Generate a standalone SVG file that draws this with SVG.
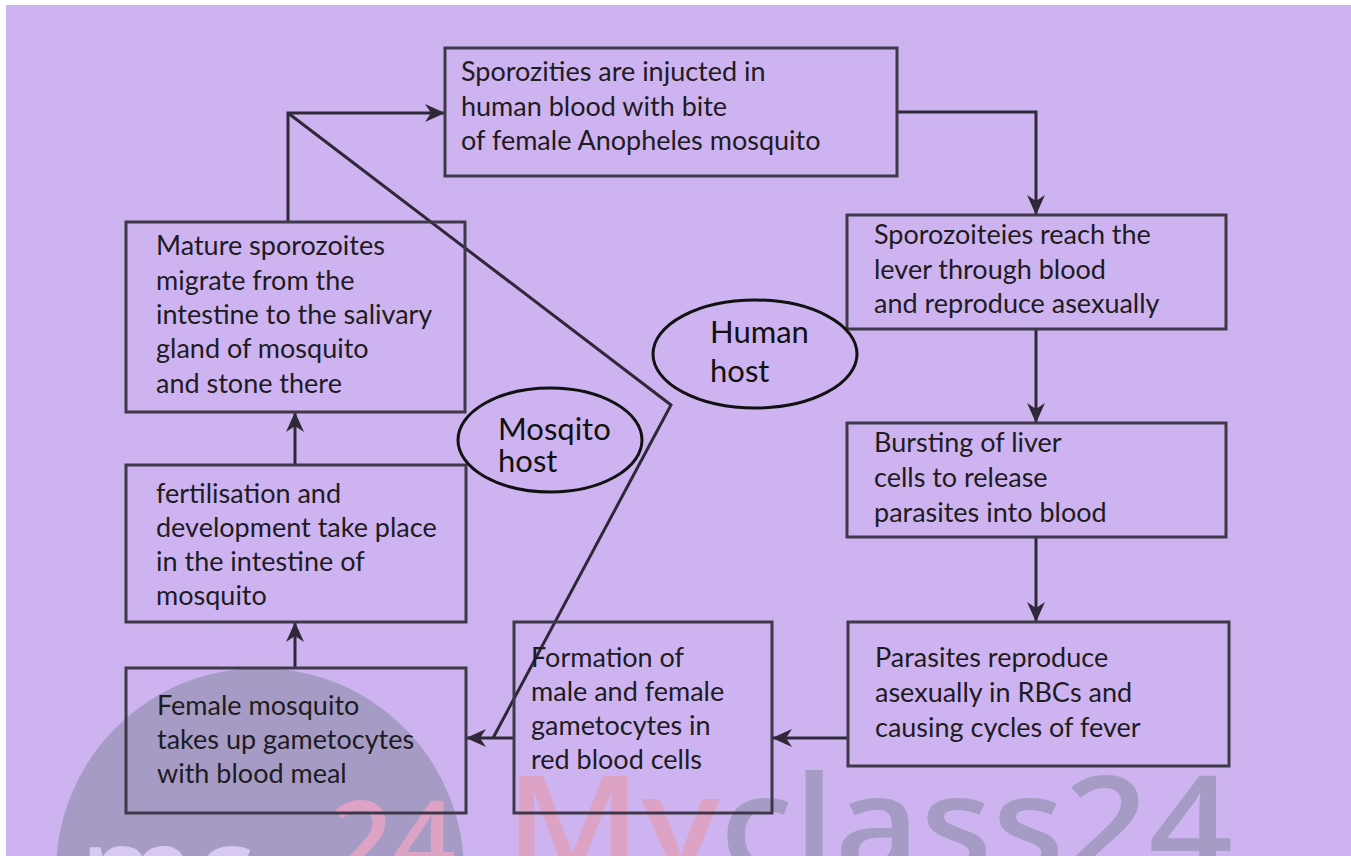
<svg xmlns="http://www.w3.org/2000/svg" width="1351" height="856" viewBox="0 0 1351 856">
<defs>
<style>
.box{fill:none;stroke:#3f3848;stroke-width:3}
.t{font-family:Lato,"Open Sans","Liberation Sans",sans-serif;font-size:27px;fill:#1f1b22}
.h{font-family:Lato,"Open Sans","Liberation Sans",sans-serif;font-size:31px;fill:#111}
.host{fill:none;stroke:#111;stroke-width:3}
.c{fill:none;stroke:#2f2838;stroke-width:3}
.wm{font-family:"Open Sans","Liberation Sans",sans-serif;font-weight:600}
</style>
<marker id="ah" viewBox="0 0 20 18" refX="19" refY="9" markerWidth="20" markerHeight="18" markerUnits="userSpaceOnUse" orient="auto">
<path d="M0,0 L20,9 L0,18 L6,9 z" fill="#2f2838"/>
</marker>
</defs>
<rect x="0" y="0" width="1351" height="856" fill="#ffffff"/>
<rect x="6" y="5" width="1345" height="851" fill="#cdb4f0"/>
<g id="watermark">
<circle cx="260" cy="872" r="204" fill="#a59bc4"/>
<text x="80" y="912" class="wm" font-size="120" fill="#d8c9f3">mc</text>
<text x="330" y="880" class="wm" font-size="110" fill="#dca3c5">24</text>
<text x="505" y="872" class="wm" font-size="135" textLength="728" lengthAdjust="spacingAndGlyphs"><tspan fill="#dca3c5">My</tspan><tspan fill="#a59bc4">class24</tspan></text>
</g>
<g id="connectors">
<polyline class="c" points="288,222 288,113 444,113" marker-end="url(#ah)"/>
<polyline class="c" points="897,112 1036,112 1036,214" marker-end="url(#ah)"/>
<line class="c" x1="1036" y1="329" x2="1036" y2="422" marker-end="url(#ah)"/>
<line class="c" x1="1036" y1="537" x2="1036" y2="621" marker-end="url(#ah)"/>
<line class="c" x1="848" y1="738" x2="773" y2="738" marker-end="url(#ah)"/>
<line class="c" x1="514" y1="738" x2="467" y2="738" marker-end="url(#ah)"/>
<polyline class="c" points="288,113 671,405 493,738"/>
<line class="c" x1="295" y1="668" x2="295" y2="623" marker-end="url(#ah)"/>
<line class="c" x1="295" y1="465" x2="295" y2="413" marker-end="url(#ah)"/>
</g>
<g id="n1">
<rect class="box" x="445" y="48" width="452" height="128"/>
<text class="t" x="461" y="81">Sporozities are injucted in</text>
<text class="t" x="461" y="116">human blood with bite</text>
<text class="t" x="461" y="150">of female Anopheles mosquito</text>
</g>
<g id="n2">
<rect class="box" x="847" y="215" width="379" height="114"/>
<text class="t" x="874" y="244">Sporozoiteies reach the</text>
<text class="t" x="874" y="279">lever through blood</text>
<text class="t" x="874" y="313">and reproduce asexually</text>
</g>
<g id="n3">
<rect class="box" x="847" y="423" width="379" height="114"/>
<text class="t" x="874" y="452">Bursting of liver</text>
<text class="t" x="874" y="487">cells to release</text>
<text class="t" x="874" y="522">parasites into blood</text>
</g>
<g id="n4">
<rect class="box" x="848" y="622" width="381" height="144"/>
<text class="t" x="875" y="667">Parasites reproduce</text>
<text class="t" x="875" y="702">asexually in RBCs and</text>
<text class="t" x="875" y="737">causing cycles of fever</text>
</g>
<g id="n5">
<rect class="box" x="514" y="622" width="258" height="191"/>
<text class="t" x="531" y="667">Formation of</text>
<text class="t" x="531" y="701">male and female</text>
<text class="t" x="531" y="735">gametocytes in</text>
<text class="t" x="531" y="769">red blood cells</text>
</g>
<g id="n6">
<rect class="box" x="126" y="668" width="340" height="145"/>
<text class="t" x="157" y="715">Female mosquito</text>
<text class="t" x="157" y="749">takes up gametocytes</text>
<text class="t" x="157" y="783">with blood meal</text>
</g>
<g id="n7">
<rect class="box" x="126" y="465" width="340" height="157"/>
<text class="t" x="156" y="503">fertilisation and</text>
<text class="t" x="156" y="537">development take place</text>
<text class="t" x="156" y="571">in the intestine of</text>
<text class="t" x="156" y="605">mosquito</text>
</g>
<g id="n8">
<rect class="box" x="126" y="222" width="339" height="190"/>
<text class="t" x="156" y="255">Mature sporozoites</text>
<text class="t" x="156" y="290">migrate from the</text>
<text class="t" x="156" y="324">intestine to the salivary</text>
<text class="t" x="156" y="358">gland of mosquito</text>
<text class="t" x="156" y="393">and stone there</text>
</g>
<g id="human-host">
<ellipse class="host" cx="755" cy="354" rx="102" ry="54"/>
<text class="h" x="710" y="343">Human</text>
<text class="h" x="710" y="382">host</text>
</g>
<g id="mosquito-host">
<ellipse class="host" cx="550" cy="440" rx="92" ry="52"/>
<text class="h" x="498" y="440">Mosqito</text>
<text class="h" x="498" y="472">host</text>
</g>
</svg>
